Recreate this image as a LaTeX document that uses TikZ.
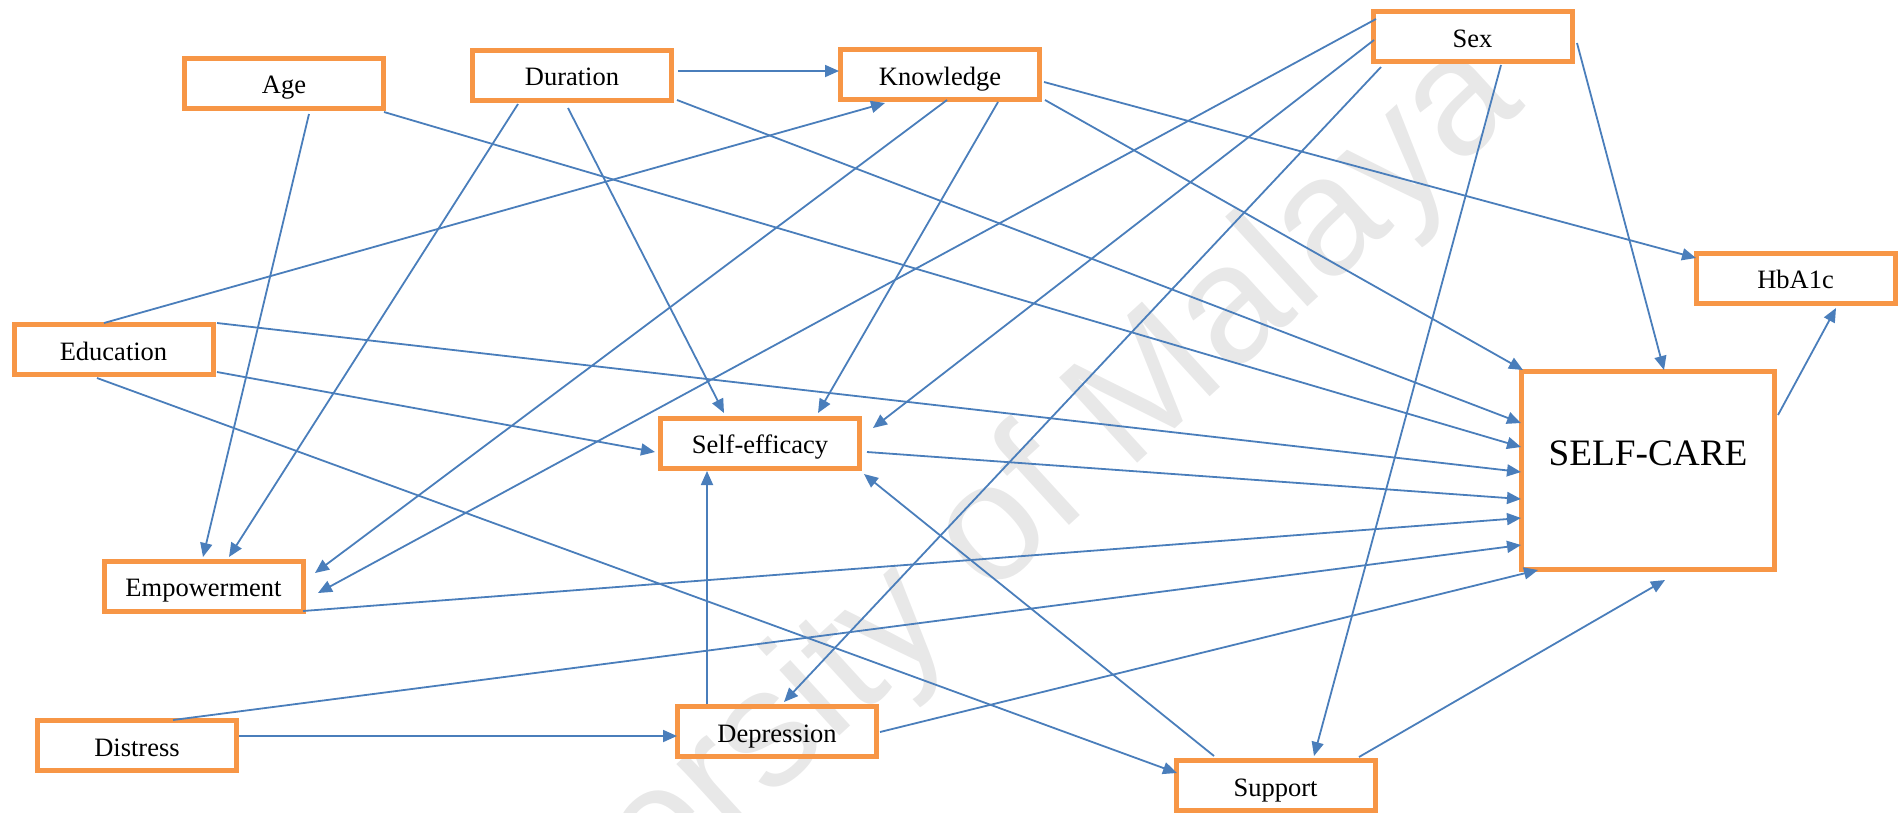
\documentclass[tikz,border=0pt]{standalone}
\usepackage{fontspec}
\setmainfont{Liberation Serif}
\newfontfamily\wmfont{Liberation Sans}
\usetikzlibrary{arrows.meta,calc}
\definecolor{boxorange}{HTML}{F79646}
\definecolor{linkblue}{HTML}{4A7EBB}
\begin{document}
\begin{tikzpicture}[x=1pt,y=-1pt,
  box/.style={draw=boxorange, line width=5pt, minimum width=199pt, minimum height=50pt, inner sep=0pt, text height=21.6pt, text depth=0pt, font=\fontsize{26.5}{30}\selectfont},
  conn/.style={draw=linkblue, line width=1.8pt, -{Triangle[length=14pt,width=12pt]}},
]
\useasboundingbox (0,0) rectangle (1898,812);
\begin{scope}
\clip (0,0) rectangle (1898,812);
\node[rotate=42.5, text=black!9, font=\wmfont\fontsize{168}{170}\selectfont] (wm) at (940,585) {University of Malaya};
\end{scope}

% nodes
\node[box] (age) at (284,83) {Age};
\node[box] (dur) at (572,75) {Duration};
\node[box] (know) at (940,74.5) {Knowledge};
\node[box] (sex) at (1472.5,36.5) {Sex};
\node[box] (hba) at (1795.5,278) {HbA1c};
\node[box] (edu) at (113.5,349.5) {Education};
\node[box] (se) at (760,443) {Self-efficacy};
\node[box, minimum width=253pt, minimum height=198pt] (sc) at (1648,470.5) {};
\node[font=\fontsize{37.3}{40}\selectfont] (sctext) at ($(sc)+(0,-17.5)$) {SELF-CARE};
\node[box] (emp) at (203.5,586) {Empowerment};
\node[box] (dis) at (137,745.5) {Distress};
\node[box] (dep) at (777,731.5) {Depression};
\node[box] (sup) at (1275.5,785.5) {Support};

% connectors
\draw[conn] ($(dur)+(106,-4)$) -- ($(know)+(-101,-3.5)$);
\draw[conn] ($(dur)+(-4,33)$) -- ($(se)+(-36,-30)$);
\draw[conn] ($(dur)+(-54,29)$) -- ($(emp)+(25.5,-29)$);
\draw[conn] ($(dur)+(105,25)$) -- ($(sc)+(-127,-47.5)$);
\draw[conn] ($(age)+(25,31)$) -- ($(emp)+(-0.5,-29)$);
\draw[conn] ($(age)+(100,29)$) -- ($(sc)+(-127,-23.5)$);
\draw[conn] ($(know)+(7,25.5)$) -- ($(emp)+(111.5,-13)$);
\draw[conn] ($(know)+(58,27.5)$) -- ($(se)+(58,-30)$);
\draw[conn] ($(know)+(105,25.5)$) -- ($(sc)+(-125,-100.5)$);
\draw[conn] ($(know)+(104,7.5)$) -- ($(hba)+(-99.5,-20)$);
\draw[conn] ($(edu)+(-9.5,-26.5)$) -- ($(know)+(-55,28.5)$);
\draw[conn] ($(edu)+(103.5,-26.5)$) -- ($(sc)+(-127,1.5)$);
\draw[conn] ($(edu)+(103.5,22.5)$) -- ($(se)+(-105,9)$);
\draw[conn] ($(edu)+(-16.5,28.5)$) -- ($(sup)+(-98.5,-12.5)$);
\draw[conn] ($(sex)+(-96.5,-17.5)$) -- ($(emp)+(114.5,7)$);
\draw[conn] ($(sex)+(-98.5,3.5)$) -- ($(se)+(113,-15)$);
\draw[conn] ($(sex)+(-91.5,30.5)$) -- ($(dep)+(7,-29.5)$);
\draw[conn] ($(sex)+(28.5,28.5)$) -- ($(sup)+(38.5,-29.5)$);
\draw[conn] ($(sex)+(104.5,6.5)$) -- ($(sc)+(16,-100.5)$);
\draw[conn] ($(se)+(107,9)$) -- ($(sc)+(-127,28.5)$);
\draw[conn] ($(emp)+(99.5,25)$) -- ($(sc)+(-127,47.5)$);
\draw[conn] ($(dis)+(36,-25.5)$) -- ($(sc)+(-127,74.5)$);
\draw[conn] ($(dis)+(102,-9.5)$) -- ($(dep)+(-100,4.5)$);
\draw[conn] ($(dep)+(-70,-27.5)$) -- ($(se)+(-53,28)$);
\draw[conn] ($(dep)+(103,0.5)$) -- ($(sc)+(-110,99.5)$);
\draw[conn] ($(sup)+(-61.5,-29.5)$) -- ($(se)+(104,31)$);
\draw[conn] ($(sup)+(83.5,-28.5)$) -- ($(sc)+(17,109.5)$);
\draw[conn] ($(sc)+(130,-55.5)$) -- ($(hba)+(40.5,30)$);
\end{tikzpicture}
\end{document}
